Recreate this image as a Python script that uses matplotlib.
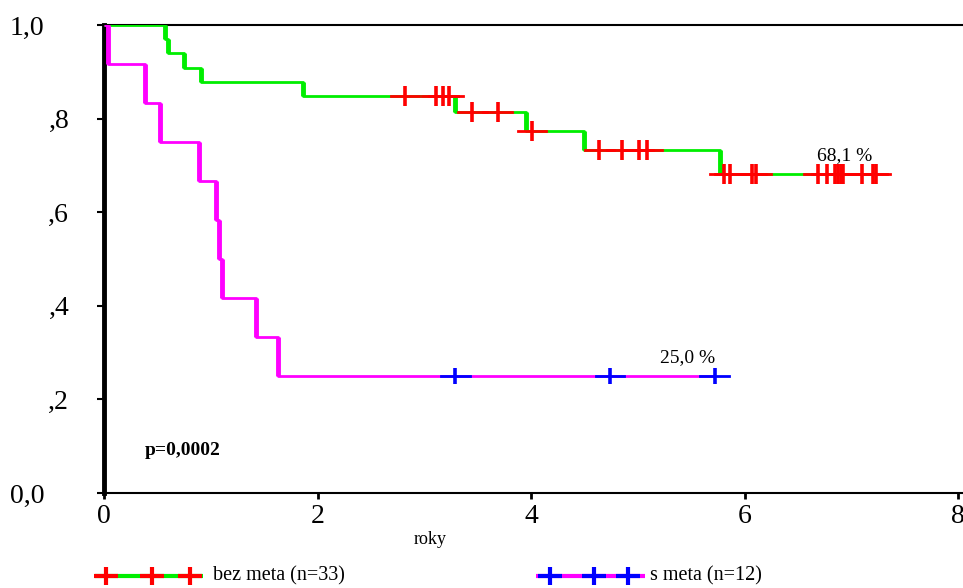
import numpy as np
import matplotlib
matplotlib.use('Agg')
import matplotlib.pyplot as plt
from matplotlib.transforms import ScaledTranslation

plt.rcParams['font.family'] = ['Liberation Serif', 'DejaVu Serif']

# survival times in years (events and censored cases)
events_bez = [0.57, 0.60, 0.75, 0.91, 1.86, 3.29, 3.95, 4.50, 5.77]
censored_bez = [2.82, 3.11, 3.18, 3.23, 3.45, 3.69, 4.01, 4.64, 4.85, 5.01, 5.09,
                5.81, 5.86, 6.07, 6.11, 6.69, 6.77, 6.85, 6.88, 6.90, 6.92, 7.10, 7.20, 7.23]
events_s = [0.04, 0.38, 0.52, 0.89, 1.05, 1.08, 1.11, 1.42, 1.63]
censored_s = [3.29, 4.74, 5.72]

groups = ['bez meta', 's meta']
yticks = [0.0, 0.2, 0.4, 0.6, 0.8, 1.0]
ytick_labels = ['0,0', ',2', ',4', ',6', ',8', '1,0']
xticks = [0, 2, 4, 6, 8]
p_text = 'p=0,0002'


def kaplan_meier(events, censored):
    # step function: list of (time, survival after time)
    times = sorted([(t, 1) for t in events] + [(t, 0) for t in censored])
    n = len(times)
    s = 1.0
    steps = []
    for t, d in times:
        if d == 1:
            s = s * (n - 1) / n
            steps.append((t, s))
        n -= 1
    return steps


def surv_at(steps, t):
    s = 1.0
    for ts, v in steps:
        if ts <= t:
            s = v
    return s


def draw_km(ax, events, censored, line_col, cens_col, ms):
    steps = kaplan_meier(events, censored)
    t_end = max(events + censored)
    xs = [0.0]
    ys = [1.0]
    for t, v in steps:
        xs += [t, t]
        ys += [ys[-1], v]
    xs.append(t_end)
    ys.append(ys[-1])
    ax.plot(xs, ys, color=line_col, lw=2, solid_capstyle='butt', zorder=3)
    prev = 1.0
    for t, v in steps:
        ax.plot([t, t], [prev, v], color=line_col, lw=3.5, solid_capstyle='butt', zorder=3)
        prev = v
    arm = 0.135
    for t in censored:
        s = surv_at(steps, t)
        ax.plot([t - arm, t + arm], [s, s], color=cens_col, lw=2, zorder=4)
        ax.plot([t], [s], marker='|', ms=ms, mew=2.6, color=cens_col, zorder=5)
    return steps, t_end


fig = plt.figure(figsize=(9.63, 5.88), dpi=100)
ax = fig.add_axes([104 / 963, 95 / 588, 859 / 963, 468 / 588])
ax.set_xlim(0, 8 * 859 / 854)
ax.set_ylim(0, 1.0)

steps_b, end_b = draw_km(ax, events_bez, censored_bez, '#00ee00', '#ff0000', 14)
steps_s, end_s = draw_km(ax, events_s, censored_s, '#ff00ff', '#0000ff', 11.5)

ax.spines['right'].set_visible(False)
ax.spines['left'].set_linewidth(3.5)
ax.spines['bottom'].set_linewidth(1.5)
ax.spines['top'].set_linewidth(1.5)

ax.set_yticks(yticks)
ax.set_yticklabels(ytick_labels)
ax.set_xticks(xticks)
ax.set_xticklabels([str(x) for x in xticks])
ax.tick_params(axis='y', direction='out', length=5, width=1.5, pad=38, labelsize=20)
ax.tick_params(axis='x', direction='out', length=4, width=2, pad=4, labelsize=20)

# labels without a leading digit sit further right
for lab in ax.get_yticklabels():
    if lab.get_text().startswith(','):
        lab.set_transform(lab.get_transform() + ScaledTranslation(0.25, 0, fig.dpi_scale_trans))

# final survival labels
for steps, end, xlab in [(steps_b, end_b, 6.94), (steps_s, end_s, 5.47)]:
    s = steps[-1][1]
    ax.annotate(f'{s * 100:.1f} %'.replace('.', ','), xy=(xlab, s), xytext=(0, 7),
                textcoords='offset points', ha='center', va='bottom', fontsize=14)

ax.text(0.38, 0.09, p_text, fontsize=14, fontweight='bold', ha='left', va='center')

# overlay in pixel coordinates for axis title and legend
ov = fig.add_axes([0, 0, 1, 1])
ov.set_xlim(0, 963)
ov.set_ylim(588, 0)
ov.axis('off')
ov.text(430, 540, 'roky', fontsize=13, ha='center', va='center')

legend_items = [
    (groups[0] + ' (n=33)', '#00ee00', '#ff0000', 95, 203, [106, 152, 190], 213),
    (groups[1] + ' (n=12)', '#ff00ff', '#0000ff', 536, 645, [550, 594, 628], 650),
]
for label, lc, cc, x0, x1, marks, tx in legend_items:
    y = 576
    ov.plot([x0, x1], [y, y], color=lc, lw=3, solid_capstyle='butt')
    for m in marks:
        ov.plot([m - 12, m + 12], [y, y], color=cc, lw=3, solid_capstyle='butt')
        ov.plot([m, m], [y - 9, y + 9], color=cc, lw=3, solid_capstyle='butt')
    ov.text(tx, y, label, fontsize=14.5, ha='left', va='center')

fig.savefig('out.png', dpi=100)
